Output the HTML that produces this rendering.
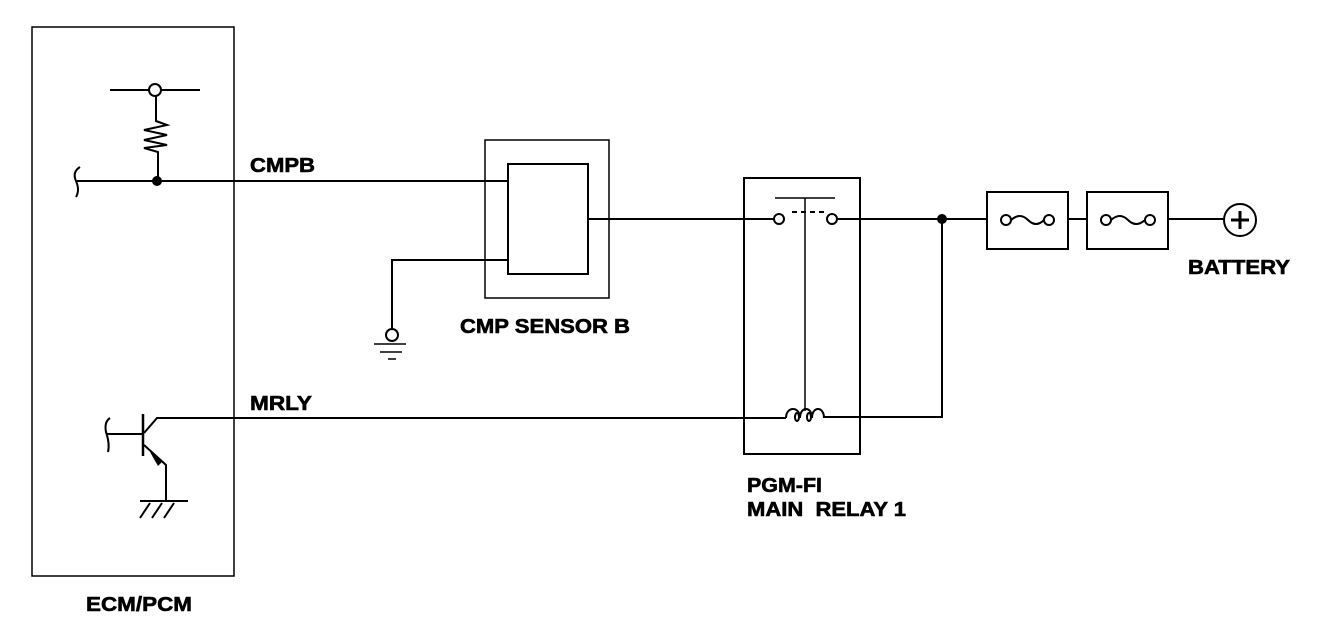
<!DOCTYPE html>
<html><head><style>body{margin:0;background:#fff}svg{display:block}text{font-family:"Liberation Sans",sans-serif;font-weight:bold;font-size:20px;fill:#000;stroke:#000;stroke-width:0.6}</style></head>
<body>
<svg width="1328" height="630" viewBox="0 0 1328 630" xmlns="http://www.w3.org/2000/svg">
<g fill="none" stroke="#000" stroke-width="2">
<rect x="32" y="27" width="202" height="549" stroke-width="1.5"/>
<line x1="110" y1="90" x2="200" y2="90"/>
<circle cx="155" cy="90" r="6" fill="#fff"/>
<polyline points="156,96 156,121 167,125 144,130 167,135 144,140 167,145 144,148 158,152 158,181"/>
<path d="M80,167 Q72,172 76,181 Q80,190 76,197"/>
<line x1="77" y1="181" x2="508" y2="181"/>
<rect x="485" y="140" width="124" height="158" stroke-width="1.5"/>
<rect x="508" y="164" width="80" height="110"/>
<line x1="588" y1="219" x2="774" y2="219"/>
<polyline points="508,260 392,260 392,329"/>
<circle cx="392" cy="335" r="6" fill="#fff"/>
<line x1="374" y1="344" x2="406" y2="344" stroke-width="1.5"/>
<line x1="380" y1="352" x2="402" y2="352" stroke-width="1.5"/>
<line x1="388" y1="359" x2="396" y2="359" stroke-width="1.5"/>
<path d="M110,418 Q104,422 106,432 Q110,444 108,452"/>
<line x1="107" y1="434" x2="143" y2="434"/>
<line x1="143" y1="414" x2="143" y2="456" stroke-width="2.5"/>
<polyline points="144,433 157,418 786,418"/>
<polyline points="144,445 166,465 166,501"/>
<line x1="140" y1="501" x2="188" y2="501"/>
<line x1="150" y1="503" x2="140" y2="518"/>
<line x1="162" y1="503" x2="152" y2="518"/>
<line x1="174" y1="503" x2="164" y2="518"/>
<rect x="744" y="178" width="116" height="276" stroke-width="2"/>
<circle cx="779" cy="219" r="5" fill="#fff"/>
<circle cx="832" cy="219" r="5" fill="#fff"/>
<line x1="775" y1="198" x2="835" y2="198" stroke-width="1.5"/>
<line x1="792" y1="212" x2="826" y2="212" stroke-dasharray="5,4" stroke-width="2"/>
<line x1="805" y1="198" x2="805" y2="411" stroke-width="1.5"/>
<path d="M786,418 C786,406 800,406 800,418 C800,406 812,406 812,418 C812,406 824,406 824,418" />
<ellipse cx="797" cy="417" rx="2" ry="4"/>
<ellipse cx="809" cy="417" rx="2" ry="4"/>
<polyline points="824,417 942,417 942,219"/>
<line x1="837" y1="219" x2="987" y2="219"/>
<rect x="987" y="192" width="81" height="57"/>
<rect x="1087" y="192" width="81" height="57"/>
<line x1="1068" y1="219" x2="1087" y2="219"/>
<circle cx="1006" cy="220" r="5"/><circle cx="1049" cy="220" r="5"/>
<path d="M1011,220 Q1020,212 1028,220 Q1036,228 1044,220"/>
<circle cx="1106" cy="220" r="5"/><circle cx="1150" cy="220" r="5"/>
<path d="M1111,220 Q1120,212 1128,220 Q1136,228 1145,220"/>
<line x1="1168" y1="219" x2="1224" y2="219"/>
<circle cx="1240" cy="220" r="16"/>
<line x1="1231" y1="220" x2="1249" y2="220" stroke-width="3"/>
<line x1="1240" y1="211" x2="1240" y2="229" stroke-width="3"/>
</g>
<circle cx="157" cy="181" r="5"/>
<circle cx="942" cy="219" r="5"/>
<polygon points="150,452 163,461 158,466"/>
<g>
<text x="250" y="172" textLength="65" lengthAdjust="spacingAndGlyphs">CMPB</text>
<text x="250" y="410" textLength="62" lengthAdjust="spacingAndGlyphs">MRLY</text>
<text x="460" y="333" textLength="170" lengthAdjust="spacingAndGlyphs">CMP SENSOR B</text>
<text x="1188" y="274" textLength="102" lengthAdjust="spacingAndGlyphs">BATTERY</text>
<text x="747" y="492" textLength="75" lengthAdjust="spacingAndGlyphs">PGM-FI</text>
<text x="747" y="516" textLength="159" lengthAdjust="spacingAndGlyphs" xml:space="preserve">MAIN  RELAY 1</text>
<text x="86" y="611" textLength="106" lengthAdjust="spacingAndGlyphs">ECM/PCM</text>
</g>
</svg>
</body></html>
